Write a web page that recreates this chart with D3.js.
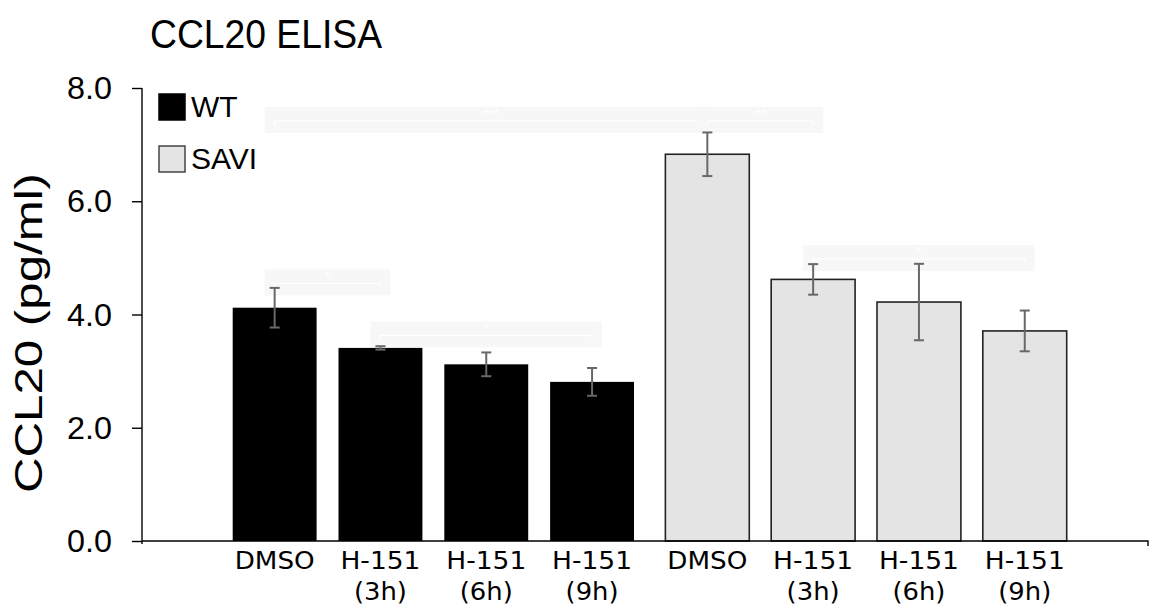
<!DOCTYPE html>
<html>
<head>
<meta charset="utf-8">
<script src="https://cdn.jsdelivr.net/npm/d3@7"></script>
<style>
  html, body { margin: 0; padding: 0; background: #fff; }
  svg { display: block; }
</style>
</head>
<body>
<svg id="chart" width="1150" height="610"></svg>
<script>
// ---------- data ----------
const groups = ["WT", "SAVI"];
const conditions = ["DMSO", "H-151 (3h)", "H-151 (6h)", "H-151 (9h)"];
const conditionLines = [["DMSO"], ["H-151", "(3h)"], ["H-151", "(6h)"], ["H-151", "(9h)"]];
const wtMeans = [4.12, 3.41, 3.12, 2.81];
const wtErrors = [0.35, 0.03, 0.21, 0.245];
const saviMeans = [6.83, 4.62, 4.22, 3.71];
const saviErrors = [0.385, 0.27, 0.675, 0.36];
const yTicks = [0, 2, 4, 6, 8];
const title = "CCL20 ELISA";
const yLabel = "CCL20 (pg/ml)";
// faint significance brackets (nearly invisible in the reference)
const brackets = [
  { g1: "WT", c1: "DMSO", g2: "SAVI", c2: "DMSO", y: 7.42, label: "***" },
  { g1: "SAVI", c1: "DMSO", g2: "SAVI", c2: "H-151 (3h)", y: 7.42, label: "**" },
  { g1: "WT", c1: "DMSO", g2: "WT", c2: "H-151 (3h)", y: 4.55, label: "*" },
  { g1: "WT", c1: "H-151 (3h)", g2: "WT", c2: "H-151 (9h)", y: 3.63, label: "*" },
  { g1: "SAVI", c1: "H-151 (3h)", g2: "SAVI", c2: "H-151 (9h)", y: 4.98, label: "*" }
];

const series = {
  WT: { means: wtMeans, errors: wtErrors, fill: "#000000", stroke: "#000000" },
  SAVI: { means: saviMeans, errors: saviErrors, fill: "#e4e4e4", stroke: "#222222" }
};

// ---------- scales ----------
const svg = d3.select("#chart");
const y = d3.scaleLinear().domain([0, 8]).range([541, 88]);
const x0 = d3.scaleBand().domain(groups).range([232.7, 1066.7]).paddingInner(0.0725);
const x1 = d3.scaleBand().domain(conditions).range([0, x0.bandwidth()]).paddingInner(0.207);
const cx = (g, c) => x0(g) + x1(c) + x1.bandwidth() / 2;

const sans = "Liberation Sans, Arial, sans-serif";

// ---------- faint brackets ----------
const br = svg.append("g");
brackets.forEach(b => {
  const xa = cx(b.g1, b.c1), xb = cx(b.g2, b.c2), yy = y(b.y);
  br.append("rect").attr("x", xa - 10).attr("y", yy - 14).attr("width", xb - xa + 20).attr("height", 26)
    .attr("fill", "#f7f7f7");
  br.append("path").attr("d", `M${xa},${yy + 4}V${yy}H${xb}V${yy + 4}`)
    .attr("fill", "none").attr("stroke", "#ffffff").attr("stroke-width", 1.2);
  br.append("text").attr("x", (xa + xb) / 2).attr("y", yy - 2).attr("text-anchor", "middle")
    .attr("font-family", sans).attr("font-size", 14).attr("fill", "#ffffff").text(b.label);
});

// ---------- bars ----------
groups.forEach(g => {
  const s = series[g];
  const gg = svg.append("g");
  gg.selectAll("rect").data(conditions).join("rect")
    .attr("x", c => x0(g) + x1(c))
    .attr("y", (c, i) => y(s.means[i]))
    .attr("width", x1.bandwidth())
    .attr("height", (c, i) => y(0) - y(s.means[i]))
    .attr("fill", s.fill)
    .attr("stroke", s.stroke)
    .attr("stroke-width", g === "SAVI" ? 1.6 : 0);
  // error bars
  const eb = svg.append("g").attr("stroke", "#686868").attr("stroke-width", 2);
  conditions.forEach((c, i) => {
    const xc = cx(g, c);
    const top = y(s.means[i] + s.errors[i]), bot = y(s.means[i] - s.errors[i]);
    eb.append("line").attr("x1", xc).attr("x2", xc).attr("y1", top).attr("y2", bot);
    eb.append("line").attr("x1", xc - 5).attr("x2", xc + 5).attr("y1", top).attr("y2", top);
    eb.append("line").attr("x1", xc - 5).attr("x2", xc + 5).attr("y1", bot).attr("y2", bot);
  });
});

// ---------- y axis ----------
const yAxis = svg.append("g").attr("transform", "translate(142,0)")
  .call(d3.axisLeft(y).tickValues(yTicks).tickFormat(d3.format(".1f")).tickSize(10).tickPadding(20));
yAxis.select(".domain").attr("d", "M0,88V544").attr("stroke", "#000").attr("stroke-width", 1.4);
yAxis.selectAll(".tick line").attr("stroke", "#000").attr("stroke-width", 1.4);
yAxis.selectAll(".tick text").attr("font-family", sans).attr("font-size", 30.5).attr("fill", "#000")
  .attr("dy", "0.35em").attr("textLength", 45).attr("lengthAdjust", "spacingAndGlyphs");

// ---------- x axis ----------
const xa = svg.append("g");
xa.append("path").attr("d", `M142,${y(0)}H1148V${y(0) + 5}`)
  .attr("fill", "none").attr("stroke", "#000").attr("stroke-width", 1.4);
groups.forEach(g => {
  conditions.forEach((c, i) => {
    conditionLines[i].forEach((ln, k) => {
      xa.append("text").attr("x", cx(g, c)).attr("y", 569 + k * 31).attr("text-anchor", "middle")
        .attr("font-family", "DejaVu Sans, Verdana, sans-serif").attr("font-size", 24).attr("fill", "#000")
        .attr("textLength", k === 0 ? 80 : 53).attr("lengthAdjust", "spacingAndGlyphs")
        .text(ln);
    });
  });
});

// ---------- y label ----------
svg.append("text").attr("transform", "translate(42,333) rotate(-90)").attr("text-anchor", "middle")
  .attr("font-family", sans).attr("font-size", 38).attr("fill", "#000")
  .attr("textLength", 320).attr("lengthAdjust", "spacingAndGlyphs").text(yLabel);

// ---------- title ----------
svg.append("text").attr("x", 150).attr("y", 48).attr("font-family", sans).attr("font-size", 40)
  .attr("fill", "#000").attr("textLength", 232).attr("lengthAdjust", "spacingAndGlyphs").text(title);

// ---------- legend ----------
const legend = svg.append("g");
groups.forEach((g, i) => {
  const s = series[g];
  const ly = 94 + i * 52;
  legend.append("rect").attr("x", 159).attr("y", ly).attr("width", 26).attr("height", 26)
    .attr("fill", s.fill).attr("stroke", g === "SAVI" ? "#444" : "#000").attr("stroke-width", 1.5);
  legend.append("text").attr("x", 191).attr("y", ly + 23).attr("font-family", sans).attr("font-size", 30)
    .attr("fill", "#000").text(g);
});
</script>
</body>
</html>
